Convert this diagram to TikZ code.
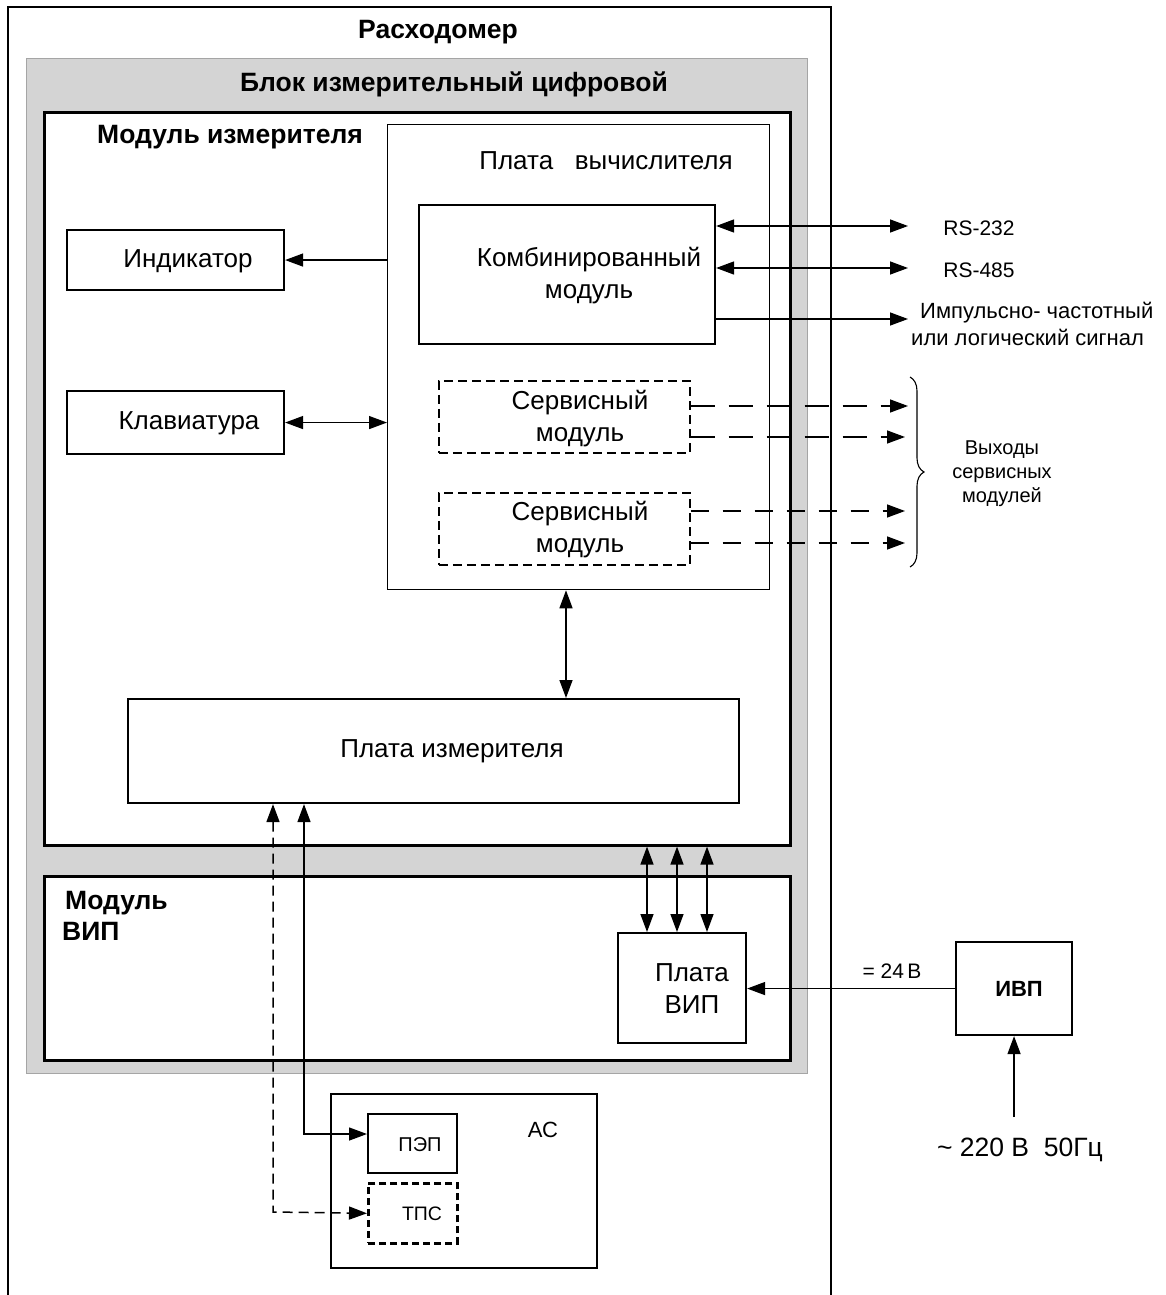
\documentclass[tikz,border=0pt]{standalone}
\usepackage{fontspec}
\setmainfont{Liberation Sans}
\usetikzlibrary{arrows.meta,decorations.pathreplacing}
\definecolor{blockgray}{RGB}{212,212,212}
\definecolor{blockedge}{RGB}{165,165,165}
\newcommand\mybox[6]{\node[#1, inner sep=0pt, minimum width={(#5-#3)*1pt}, minimum height={(#6-#4)*1pt}, anchor=north west] (#2) at (#3,#4) {};}
\tikzset{
  thickbox/.style={draw, line width=2.6pt},
  midbox/.style={draw, line width=2.1pt},
  thinbox/.style={draw, line width=1.3pt},
  dashbox/.style={draw, line width=1.5pt, dash pattern=on 9pt off 5pt},
  dashboxthick/.style={draw, line width=2.6pt, dash pattern=on 7pt off 4pt},
  conn/.style={line width=1.4pt},
  arr/.style={-{Triangle[length=18pt,width=13pt]}},
  darr/.style={{Triangle[length=18pt,width=13pt]}-{Triangle[length=18pt,width=13pt]}},
  txt/.style={inner sep=0pt, yshift=-2.5pt, font=\fontsize{26}{32}\selectfont},
  btxt/.style={inner sep=0pt, yshift=-2.5pt, font=\bfseries\fontsize{26.5}{31}\selectfont},
}
\begin{document}
\begin{tikzpicture}[x=1pt,y=-1pt]
\useasboundingbox (0,0) rectangle (1165,1295);
% outer
\draw[line width=2.3pt] (8,1295) -- (8,7) -- (831,7) -- (831,1295);
% gray block
\mybox{draw=blockedge, fill=blockgray, line width=1pt}{blk}{26}{58}{807}{1073}
% modules
\mybox{thickbox, fill=white}{mi}{43}{111}{789}{844}
\mybox{thickbox, fill=white}{mvip}{43}{875}{789}{1059}
% boards
\mybox{thinbox}{pv}{387}{124}{769}{589}
\mybox{midbox}{km}{418}{204}{714}{343}
\mybox{midbox}{ind}{66}{229}{283}{289}
\mybox{midbox}{kl}{66}{390}{283}{453}
\mybox{dashbox}{sm1}{438}{380}{689}{452}
\mybox{dashbox}{sm2}{438}{492}{689}{564}
\mybox{midbox}{pi}{127}{698}{738}{802}
\mybox{midbox}{pvip}{617}{932}{745}{1042}
\mybox{midbox}{ivp}{955}{941}{1071}{1034}
\mybox{midbox}{as}{330}{1093}{596}{1267}
\mybox{midbox}{pep}{367}{1113}{456}{1172}
\mybox{dashboxthick}{tps}{367}{1182}{456}{1242}

% texts
\node[btxt] (t1) at (438,30) {Расходомер};
\node[btxt] (t2) at (454,82) {Блок измерительный цифровой};
\node[btxt] (t3) at (230,135) {Модуль измерителя};
\node[txt] (t4) at (606,158) {Плата\ \ \ вычислителя};
\node[txt, align=center] (t5) at (589,273) {Комбинированный\\модуль};
\node[txt] (t6) at (188,259) {Индикатор};
\node[txt] (t7) at (189,421) {Клавиатура};
\node[txt, align=center] (t8) at (580,416) {Сервисный\\модуль};
\node[txt, align=center] (t9) at (580,527) {Сервисный\\модуль};
\node[txt] (t10) at (452,749) {Плата измерителя};
\node[btxt, align=left, anchor=west] (t11) at (62,913) {\hspace{3pt}Модуль\\ВИП};
\node[txt, align=center] (t12) at (692,986) {Плата\\ВИП};
\node[btxt, font=\bfseries\fontsize{22}{26}\selectfont] (t13) at (1019,986) {ИВП};
\node[txt, font=\fontsize{22}{26}\selectfont] (t14) at (543,1127) {АС};
\node[txt, font=\fontsize{20}{22}\selectfont] (t15) at (420,1142) {ПЭП};
\node[txt, font=\fontsize{19.5}{22}\selectfont] (t16) at (422,1211) {ТПС};
\node[txt, font=\fontsize{21}{26}\selectfont] (t17) at (979,226) {RS-232};
\node[txt, font=\fontsize{21}{26}\selectfont] (t18) at (979,268) {RS-485};
\node[txt, font=\fontsize{22}{27}\selectfont, align=left, anchor=west] (t19) at (911,321) {\hspace{9pt}Импульсно- частотный\\или логический сигнал};
\node[txt, font=\fontsize{20}{24}\selectfont, align=center] (t20) at (1002,471) {Выходы\\сервисных\\модулей};
\node[txt, font=\fontsize{21}{22}\selectfont] (t21) at (892,969) {= 24\,В};
\node[txt, font=\fontsize{26.5}{30}\selectfont] (t22) at (1020,1147) {\textasciitilde\ 220 В\ \ 50Гц};

% coordinates
\coordinate (c232) at (908,226);
\coordinate (c485) at (908,268);
\coordinate (cimp) at (908,319);
\coordinate (cs1) at (908,406);
\coordinate (cs2) at (905,437);
\coordinate (cs3) at (905,511);
\coordinate (cs4) at (905,543);
\coordinate (cv) at (566,0);
\coordinate (ca) at (647,0);
\coordinate (cb) at (677,0);
\coordinate (cc) at (707,0);
\coordinate (cpep) at (304,1134);
\coordinate (ctps) at (273,1212);
\coordinate (c220) at (1014,1117);
\coordinate (br1) at (910,377);
\coordinate (br2) at (910,567);

% connectors
\draw[conn, arr] (ind.east -| pv.west) -- (ind.east);
\draw[conn, darr] (kl.east) -- (kl.east -| pv.west);
\draw[conn, darr] (c232 -| km.east) -- (c232);
\draw[conn, darr] (c485 -| km.east) -- (c485);
\draw[conn, arr] (cimp -| km.east) -- (cimp);
\draw[conn, arr, dash pattern=on 24pt off 14pt] (cs1 -| sm1.east) -- (cs1);
\draw[conn, arr, dash pattern=on 24pt off 14pt] (cs2 -| sm1.east) -- (cs2);
\draw[conn, arr, dash pattern=on 18pt off 14pt] (cs3 -| sm2.east) -- (cs3);
\draw[conn, arr, dash pattern=on 18pt off 14pt] (cs4 -| sm2.east) -- (cs4);
\draw[conn, darr] (pv.south -| cv) -- (pi.north -| cv);
\draw[conn, darr] (mi.south -| ca) -- (pvip.north -| ca);
\draw[conn, darr] (mi.south -| cb) -- (pvip.north -| cb);
\draw[conn, darr] (mi.south -| cc) -- (pvip.north -| cc);
\draw[conn, arr] (ivp.west) -- (ivp.west -| pvip.east);
\draw[conn, arr] (ivp.south |- c220) -- (ivp.south);
\draw[conn, darr] (pi.south -| cpep) -- (cpep) -- (cpep -| pep.west);
\draw[conn, darr, line width=1.5pt, dash pattern=on 10pt off 6pt] (pi.south -| ctps) -- (ctps) -- (tps.west);
\draw[line width=1.1pt, decorate, decoration={brace, amplitude=14pt}] (br1) -- (br2);
\end{tikzpicture}
\end{document}
